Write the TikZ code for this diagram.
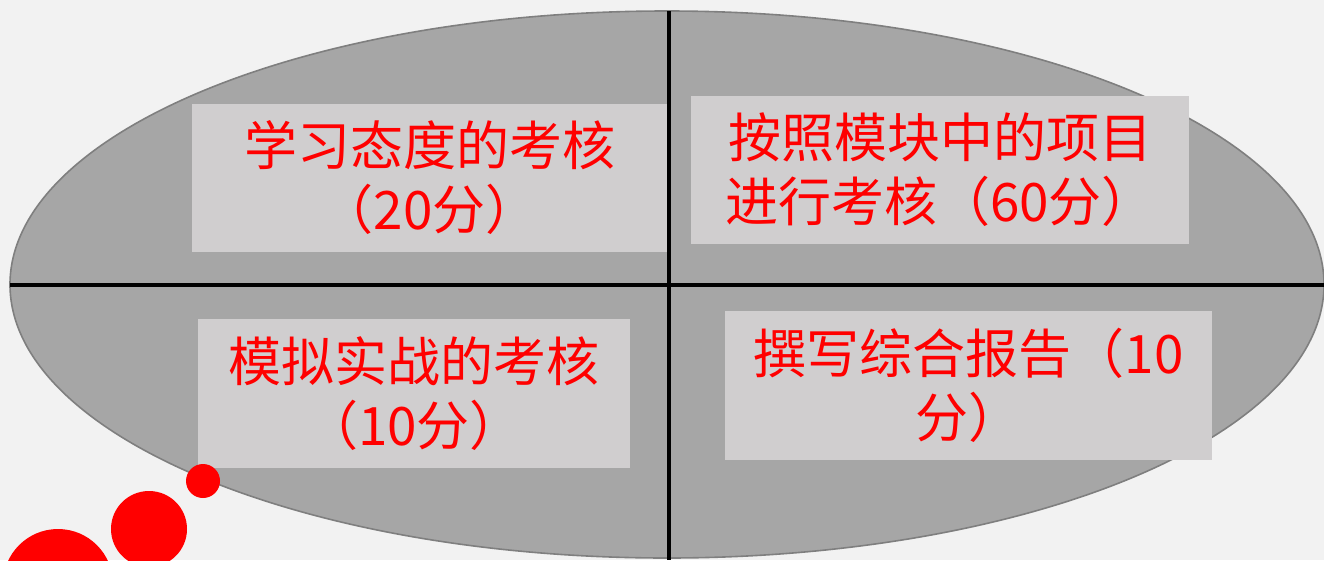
\documentclass[tikz,border=0pt]{standalone}
\usepackage{fontspec}
\newfontfamily\cjk{Noto Sans CJK SC}
\definecolor{bgc}{HTML}{F2F2F2}
\definecolor{ellc}{HTML}{A6A6A6}
\definecolor{elld}{HTML}{7F7F7F}
\definecolor{boxc}{HTML}{D0CECF}
\definecolor{txtc}{HTML}{FF0000}
\tikzset{
  panel/.style={fill=boxc, draw=none, inner sep=0pt, align=center,
    text=txtc, font=\cjk\fontsize{53}{64}\selectfont},
  dot/.style={circle, fill=txtc, draw=none, inner sep=0pt},
  divider/.style={line width=3.6pt, black}
}
\begin{document}
\begin{tikzpicture}[x=1pt,y=-1pt]
\useasboundingbox (0,0) rectangle (1324,560);
\fill[bgc] (0,0) rectangle (1324,560);
\begin{scope}
\clip (0,0) rectangle (1324,560);
\filldraw[fill=ellc, draw=elld, line width=1.6pt] (667,284.5) ellipse [x radius=657, y radius=273.5];
\coordinate (vt) at (669,11);
\coordinate (vb) at (669,560);
\coordinate (hl) at (10,285);
\coordinate (hr) at (1324,285);
\draw[divider] (vt) -- (vb);
\draw[divider] (hl) -- (hr);
\node[panel, minimum width=475, minimum height=148] (b1) at (429.5,178) {学习态度的考核\\（20分）};
\node[panel, minimum width=498, minimum height=148] (b2) at (940,170) {按照模块中的项目\\进行考核（60分）};
\node[panel, minimum width=432, minimum height=149] (b3) at (414,393.5) {模拟实战的考核\\（10分）};
\node[panel, minimum width=487, minimum height=149] (b4) at (968.5,385.5) {撰写综合报告（10\\分）};
\node[dot, minimum size=34] (c1) at (203,481) {};
\node[dot, minimum size=76] (c2) at (149,529) {};
\node[dot, minimum size=110] (c3) at (58,584) {};
\end{scope}
\end{tikzpicture}
\end{document}
